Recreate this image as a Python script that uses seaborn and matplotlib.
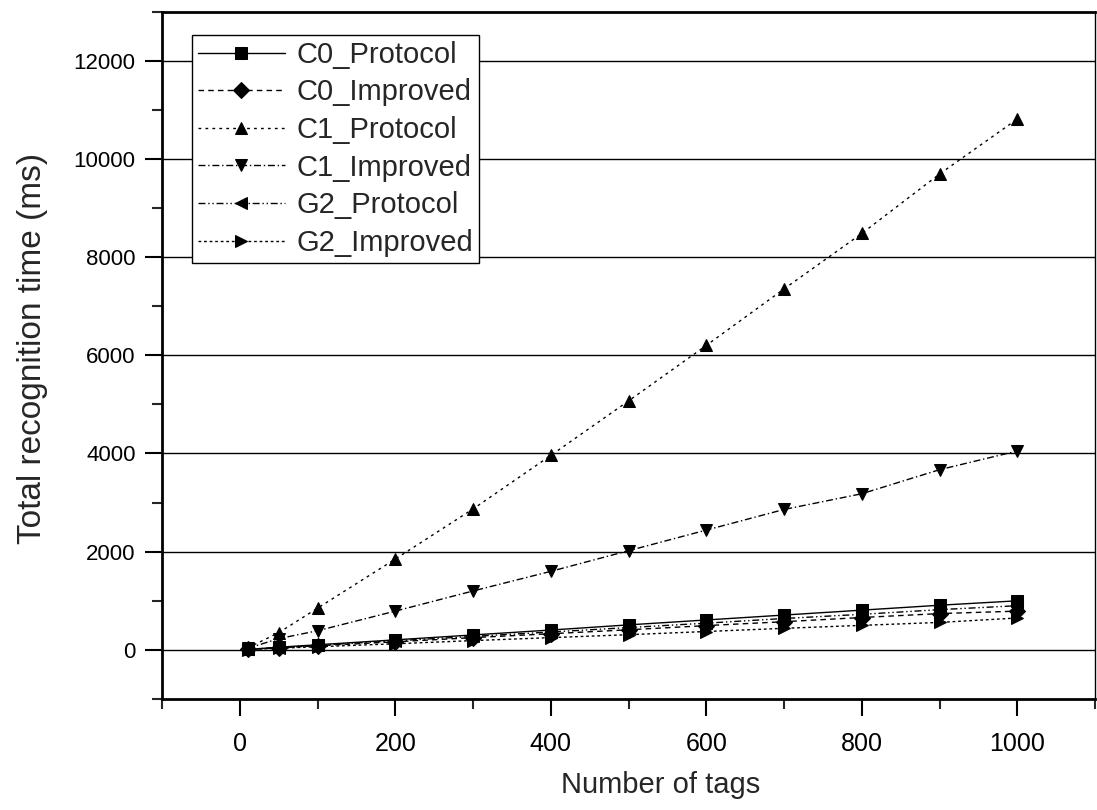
import pandas as pd
import numpy as np
import matplotlib
matplotlib.use("Agg")
import matplotlib.pyplot as plt
import seaborn as sns

# data
tags = [10, 50, 100, 200, 300, 400, 500, 600, 700, 800, 900, 1000]
c0_protocol = [10, 55, 105, 205, 305, 405, 510, 610, 710, 810, 910, 1000]
c0_improved = [9, 42, 85, 165, 250, 330, 410, 495, 575, 660, 740, 790]
c1_protocol = [40, 350, 850, 1850, 2870, 3960, 5070, 6200, 7350, 8480, 9690, 10810]
c1_improved = [30, 230, 390, 790, 1200, 1600, 2020, 2440, 2860, 3180, 3670, 4050]
g2_protocol = [10, 48, 95, 185, 275, 365, 455, 545, 640, 725, 820, 900]
g2_improved = [8, 35, 65, 125, 190, 250, 310, 375, 440, 500, 560, 650]

names = ["C0_Protocol", "C0_Improved", "C1_Protocol", "C1_Improved", "G2_Protocol", "G2_Improved"]
series = [c0_protocol, c0_improved, c1_protocol, c1_improved, g2_protocol, g2_improved]

df = pd.concat([pd.DataFrame({"tags": tags, "time": s, "series": n}) for n, s in zip(names, series)])

sns.set_style("white")
plt.rcParams['font.family'] = ['Liberation Sans', 'DejaVu Sans']

fig = plt.figure(figsize=(10.97, 8.10), dpi=100)
ax = fig.add_axes([0.1477, 0.137, 0.8505, 0.8488])

markers = {"C0_Protocol": "s", "C0_Improved": "D", "C1_Protocol": "^",
           "C1_Improved": "v", "G2_Protocol": "<", "G2_Improved": ">"}
dashes = {"C0_Protocol": "", "C0_Improved": (4, 3), "C1_Protocol": (2, 3),
          "C1_Improved": (5, 2, 1, 2), "G2_Protocol": (5, 2, 1, 2, 1, 2),
          "G2_Improved": (2, 2)}
palette = {n: "black" for n in names}

# horizontal grid lines
for yv in range(0, 13000, 2000):
    ax.axhline(yv, color="black", lw=1.0, zorder=0)

sns.lineplot(data=df, x="tags", y="time", hue="series", style="series",
             markers=markers, dashes=dashes, palette=palette, ax=ax,
             lw=1.0, markersize=8, markeredgecolor="black", legend="full")

ax.set_xlim(-100, 1100)
ax.set_ylim(-1000, 13000)
ax.set_xticks(range(0, 1001, 200))
ax.set_xticks(range(-100, 1101, 100), minor=True)
ax.set_yticks(range(0, 12001, 2000))
ax.set_yticks(range(-1000, 13001, 1000), minor=True)
ax.tick_params(axis="both", which="major", direction="out", length=12, width=1.5,
               colors="black", bottom=True, left=True)
ax.tick_params(axis="both", which="minor", direction="out", length=7, width=1.5,
               bottom=True, left=True)
ax.tick_params(axis="x", labelsize=18, pad=12)
ax.tick_params(axis="y", labelsize=16, pad=7)

for side in ["left", "bottom", "top"]:
    ax.spines[side].set_linewidth(2.0)
    ax.spines[side].set_color("black")
ax.spines["right"].set_linewidth(1.0)
ax.spines["right"].set_color("black")

ax.set_xlabel("Number of tags", fontsize=21)
ax.xaxis.set_label_coords(0.534, -0.105)
ax.set_ylabel("Total recognition time (ms)", fontsize=24)
ax.yaxis.set_label_coords(-0.122, 0.51)

handles, labels = ax.get_legend_handles_labels()
leg = ax.legend(handles, labels, loc="upper left", bbox_to_anchor=(0.032, 0.966),
                fontsize=21, frameon=True, fancybox=False, framealpha=1,
                edgecolor="black", handlelength=3, borderpad=0.2,
                labelspacing=0.33, handletextpad=0.4, borderaxespad=0)
leg.get_frame().set_linewidth(1.0)

fig.savefig("out.png", dpi=100)
